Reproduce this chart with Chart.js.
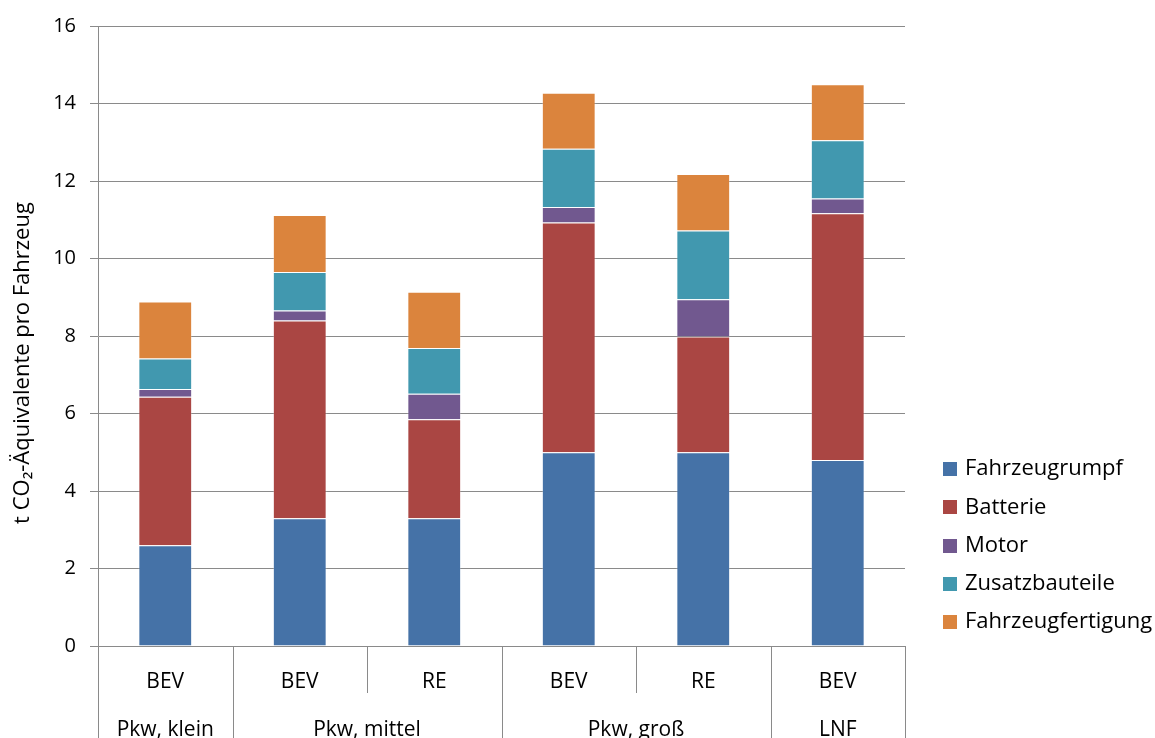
<!DOCTYPE html>
<html>
<head>
<meta charset="utf-8">
<script src="https://cdn.jsdelivr.net/npm/chart.js@4/dist/chart.umd.min.js"></script>
<style>
  html, body { margin: 0; padding: 0; background: #fff; }
  #wrap { width: 1155px; height: 738px; position: relative; }
</style>
</head>
<body>
<div id="wrap"><canvas id="c" width="1155" height="738"></canvas></div>
<script>
// ---- data ----
const categories = ['BEV', 'BEV', 'RE', 'BEV', 'RE', 'BEV'];
const groupLabels = ['Pkw, klein', 'Pkw, mittel', 'Pkw, groß', 'LNF'];
const groupSpans = [1, 2, 2, 1];
const seriesNames = ['Fahrzeugrumpf', 'Batterie', 'Motor', 'Zusatzbauteile', 'Fahrzeugfertigung'];
const fahrzeugrumpf     = [2.60, 3.30, 3.30, 5.00, 5.00, 4.80];
const batterie          = [3.83, 5.10, 2.55, 5.93, 2.99, 6.37];
const motor             = [0.20, 0.26, 0.66, 0.40, 0.96, 0.38];
const zusatzbauteile    = [0.79, 0.99, 1.18, 1.50, 1.77, 1.50];
const fahrzeugfertigung = [1.47, 1.47, 1.45, 1.45, 1.46, 1.45];
const yTicks = [0, 2, 4, 6, 8, 10, 12, 14, 16];
const yTitle = 't CO\u2082-Äquivalente pro Fahrzeug';

const colors = ['#4572A7', '#AA4643', '#71588F', '#4198AF', '#DB843D'];
const seriesData = [fahrzeugrumpf, batterie, motor, zusatzbauteile, fahrzeugfertigung];
const FONT = '"Open Sans", "Noto Sans", sans-serif';
const LINE = '#8a8a8a';

const extras = {
  id: 'extras',
  afterDraw(chart) {
    const ctx = chart.ctx;
    const x = chart.scales.x;
    const area = chart.chartArea;
    const n = categories.length;
    const step = (x.getPixelForValue(1) - x.getPixelForValue(0));
    const edge = i => x.getPixelForValue(i) - step / 2;
    ctx.save();
    // separators
    ctx.strokeStyle = LINE;
    ctx.lineWidth = 1;
    const groupEdges = [0];
    let acc = 0;
    groupSpans.forEach(s => { acc += s; groupEdges.push(acc); });
    for (let i = 0; i <= n; i++) {
      const px = Math.round(edge(i)) + 0.5;
      const isGroup = groupEdges.includes(i);
      ctx.beginPath();
      ctx.moveTo(px, area.bottom);
      ctx.lineTo(px, isGroup ? chart.height : area.bottom + 47);
      ctx.stroke();
    }
    // level-1 labels
    ctx.fillStyle = '#000';
    ctx.font = '21px ' + FONT;
    ctx.textAlign = 'center';
    ctx.textBaseline = 'alphabetic';
    categories.forEach((c, i) => {
      ctx.fillText(c, x.getPixelForValue(i), area.bottom + 42);
    });
    // level-2 labels
    groupLabels.forEach((g, gi) => {
      const c0 = edge(groupEdges[gi]), c1 = edge(groupEdges[gi + 1]);
      ctx.fillText(g, (c0 + c1) / 2, area.bottom + 90);
    });
    // y title
    ctx.save();
    ctx.translate(23, (area.top + area.bottom) / 2 + 27);
    ctx.rotate(-Math.PI / 2);
    ctx.textBaseline = 'middle';
    ctx.font = '22px ' + FONT;
    ctx.fillText(yTitle, 0, 0);
    ctx.restore();
    // legend
    ctx.font = '22px ' + FONT;
    ctx.textAlign = 'left';
    ctx.textBaseline = 'middle';
    seriesNames.forEach((s, i) => {
      const cy = 469 + i * 38.3;
      ctx.fillStyle = colors[i];
      ctx.fillRect(943, Math.round(cy - 7), 14, 14);
      ctx.fillStyle = '#000';
      ctx.fillText(s, 965, cy);
    });
    ctx.restore();
  }
};

new Chart(document.getElementById('c'), {
  type: 'bar',
  data: {
    labels: categories,
    datasets: seriesNames.map((name, i) => ({
      label: name,
      data: seriesData[i],
      backgroundColor: colors[i],
      borderColor: 'rgba(255,255,255,0.25)',
      borderWidth: 1,
      barPercentage: 0.4,
      categoryPercentage: 1.0
    }))
  },
  options: {
    responsive: false,
    animation: false,
    devicePixelRatio: 1,
    layout: { padding: { left: 0, top: 24, right: 250, bottom: 0 } },
    plugins: { legend: { display: false }, tooltip: { enabled: false } },
    scales: {
      x: {
        stacked: true,
        grid: { display: false },
        border: { display: false },
        ticks: { display: false },
        afterFit(scale) { scale.height = 92; }
      },
      y: {
        stacked: true,
        min: 0, max: 16,
        afterBuildTicks(scale) { scale.ticks = yTicks.map(v => ({ value: v })); },
        ticks: { color: '#000', font: { family: FONT, size: 20 }, padding: 14 },
        grid: { color: LINE, lineWidth: 1, tickLength: 8, drawTicks: true },
        border: { display: true, color: LINE, width: 1 },
        afterFit(scale) { scale.width = 98; }
      }
    }
  },
  plugins: [extras]
});
</script>
</body>
</html>
